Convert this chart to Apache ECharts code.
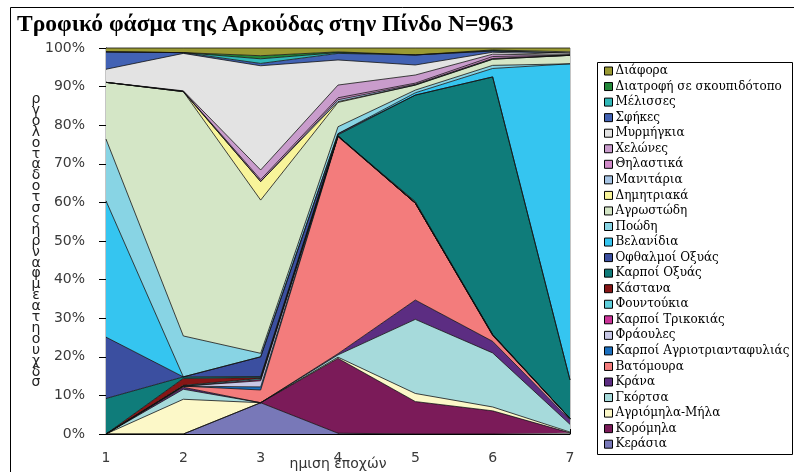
<!DOCTYPE html>
<html><head><meta charset="utf-8">
<script src="https://cdn.jsdelivr.net/npm/echarts@6/dist/echarts.min.js"></script>
<style>html,body{margin:0;padding:0;background:#fff}#c{width:794px;height:472px}</style>
</head><body><div id="c"></div>
<script>
const categories = ['1','2','3','4','5','6','7'];
const yTickLabels = ['0%','10%','20%','30%','40%','50%','60%','70%','80%','90%','100%'];

// series values (share of diet, % per period), bottom of stack first
const kerasia      = [0, 0, 8.1, 0.2, 0, 0, 0];
const koromila     = [0, 0, 0, 19.4, 8.4, 6.0, 0.3];
const agriomila    = [0, 9.0, 0, 0.3, 2.1, 1.0, 0.2];
const gkortsa      = [0, 2.6, 0, 0.6, 19.2, 14.0, 2.0];
const krana        = [0, 0.5, 0, 0.3, 5.0, 3.0, 1.2];
const vatomoura    = [0, 0.3, 3.3, 56.2, 25.1, 1.5, 0.3];
const agriotriant  = [0, 0, 0.8, 0.2, 0, 0.2, 0];
const fraoules     = [0, 0, 1.6, 0, 0, 0, 0];
const trikokia     = [0, 0, 0.3, 0, 0, 0, 0];
const fountoukia   = [0, 0.2, 0.3, 0, 0, 0, 0];
const kastana      = [0, 1.8, 0.2, 0, 0.4, 0.1, 0];
const karpoiOxyas  = [9.2, 0.4, 0.3, 0.3, 27.6, 66.7, 10.0];
const ofthalmoi    = [15.9, 0, 5.1, 0.3, 0, 0, 0];
const velanidia    = [35.3, 0, 0, 0, 0.6, 2.2, 81.9];
const poodi        = [16.0, 10.6, 0.9, 1.8, 0.7, 0.8, 0];
const agrostodi    = [14.7, 63.3, 39.7, 6.3, 1.3, 1.6, 2.2];
const dimitriaka   = [0, 0, 4.8, 0.2, 0, 0, 0];
const manitaria    = [0, 0, 0, 0.5, 0.2, 0.2, 0];
const thilastika   = [0, 0.1, 0.5, 0.5, 0.3, 0.5, 0];
const chelones     = [0, 0.1, 2.5, 3.3, 2.1, 0.6, 0];
const myrmigkia    = [3.4, 9.7, 27.0, 6.5, 2.6, 0.5, 0.2];
const sfikes       = [4.5, 0.2, 0.6, 1.7, 2.6, 0.3, 0.4];
const melisses     = [0, 0, 1.2, 0.2, 0, 0.1, 0];
const skoupidotopos= [0, 0, 0.8, 0.2, 0, 0.2, 0.3];
const diafora      = [1.0, 1.2, 2.0, 1.0, 1.8, 0.5, 1.0];

const seriesNames = ['Κεράσια','Κορόμηλα','Αγριόμηλα-Μήλα','Γκόρτσα','Κράνα','Βατόμουρα',
  'Καρποί Αγριοτριανταφυλιάς','Φράουλες','Καρποί Τρικοκιάς','Φουντούκια','Κάστανα','Καρποί Οξυάς',
  'Οφθαλμοί Οξυάς','Βελανίδια','Ποώδη','Αγρωστώδη','Δημητριακά','Μανιτάρια','Θηλαστικά','Χελώνες',
  'Μυρμήγκια','Σφήκες','Μέλισσες','Διατροφή σε σκουπιδότοπο','Διάφορα'];
const seriesValues = [kerasia,koromila,agriomila,gkortsa,krana,vatomoura,agriotriant,fraoules,trikokia,
  fountoukia,kastana,karpoiOxyas,ofthalmoi,velanidia,poodi,agrostodi,dimitriaka,manitaria,thilastika,
  chelones,myrmigkia,sfikes,melisses,skoupidotopos,diafora];
const seriesColors = ['#7878b8','#7b1b59','#fcf8c8','#a6dadb','#5c2d82','#f37c7c',
  '#1a6fbf','#c8c8e6','#cc3399','#5fcfdc','#861616','#0f7c7a',
  '#3b4fa0','#35c5f0','#88d4e4','#d4e6c6','#f8f49a','#a6c4e4','#d08ac8','#c99ccc',
  '#e3e3e3','#4262b4','#30b8b8','#23883a','#9a9a33'];
const yTitleChars = ['ρ','γ','ο','λ','ο','τ','α','δ','ο','τ','σ','ς','η','ρ','ν','α','φ','μ','ε','α','τ','η','ο','υ','χ','δ','σ'];

const totals = categories.map((_, i) => seriesValues.reduce((s, arr) => s + arr[i], 0));

const series = seriesNames.map((name, k) => ({
  name, type: 'line', stack: 'all', symbol: 'none', smooth: false,
  data: seriesValues[k].map((v, i) => v / totals[i] * 100),
  itemStyle: { color: seriesColors[k] },
  lineStyle: { color: '#111', width: 0.8 },
  areaStyle: { color: seriesColors[k], opacity: 1 },
  emphasis: { disabled: true }
}));

const chart = echarts.init(document.getElementById('c'), null, { renderer: 'canvas' });
chart.setOption({
  animation: false,
  backgroundColor: '#fff',
  title: {
    text: 'Τροφικό φάσμα της Αρκούδας στην Πίνδο N=963',
    left: 12, top: 8,
    textStyle: { fontFamily: 'Liberation Serif', fontWeight: 'bold', fontSize: 23.5, color: '#000' }
  },
  grid: { left: 106, right: 224, top: 48, bottom: 38, show: true, borderColor: '#8a8a8a', borderWidth: 1,
    containLabel: false, outerBoundsMode: 'none' },
  xAxis: {
    type: 'category', data: categories, boundaryGap: false,
    name: 'ημιση εποχών', nameLocation: 'middle', nameGap: 23, nameMoveOverlap: false,
    nameTextStyle: { fontFamily: 'DejaVu Sans', fontSize: 14, color: '#333' },
    axisLine: { lineStyle: { color: '#000', width: 1 } },
    axisTick: { inside: true, length: 5, lineStyle: { color: '#000' } },
    axisLabel: { margin: 17, fontFamily: 'DejaVu Sans', fontSize: 14, color: '#3a3a3a' },
    splitLine: { show: false }
  },
  yAxis: {
    type: 'value', min: 0, max: 100, interval: 10,
    axisLine: { show: true, lineStyle: { color: '#000', width: 1 } },
    axisTick: { show: true, inside: false, length: 7, lineStyle: { color: '#000' } },
    axisLabel: { margin: 21, fontFamily: 'DejaVu Sans', fontSize: 14, color: '#3a3a3a',
      formatter: (v) => yTickLabels[Math.round(v / 10)] },
    splitLine: { show: false }
  },
  legend: {
    orient: 'vertical', left: 604, top: 64, padding: 0,
    itemWidth: 8, itemHeight: 8, itemGap: 1.55, icon: 'rect',
    selectedMode: false,
    textStyle: { fontFamily: 'DejaVu Serif', fontSize: 12, color: '#000', lineHeight: 14, padding: [0, 0, 0, -2] },
    data: seriesNames.slice().reverse().map((n) => ({
      name: n,
      itemStyle: { color: seriesColors[seriesNames.indexOf(n)], borderColor: '#000', borderWidth: 1 }
    }))
  },
  graphic: [
    { type: 'rect', shape: { x: 10.5, y: 7.5, width: 800, height: 480 }, style: { fill: 'none', stroke: '#000', lineWidth: 1 }, silent: true, z: -1 },
    { type: 'rect', shape: { x: 597.5, y: 62.5, width: 195, height: 392 }, style: { fill: 'none', stroke: '#000', lineWidth: 1 }, silent: true },
    { type: 'text', x: 36, y: 94, style: { text: yTitleChars.join('\n'), fontFamily: 'DejaVu Sans', fontSize: 14, lineHeight: 10.9, fill: '#222', align: 'center' }, silent: true }
  ],
  series
});
</script></body></html>
